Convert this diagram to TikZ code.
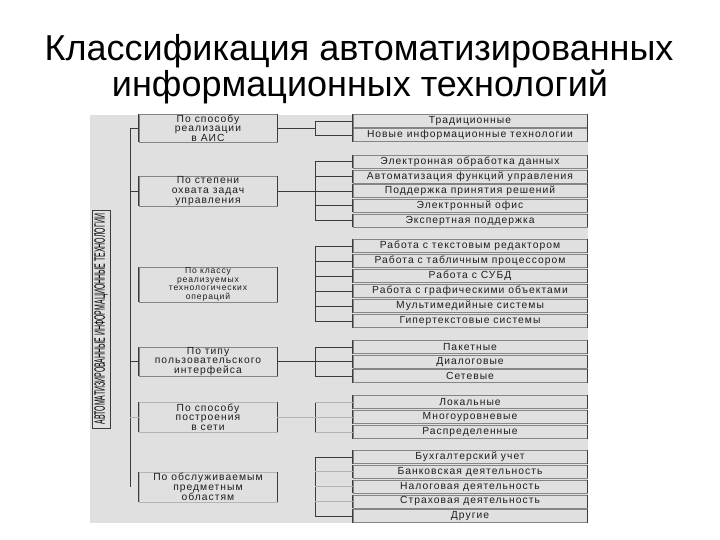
\documentclass[tikz,border=0pt]{standalone}
\usepackage{fontspec}
\setmainfont{Liberation Sans}
\newfontfamily\boxfont[LetterSpace=10]{Liberation Sans}
\usepackage{graphicx}
\usetikzlibrary{positioning}
\definecolor{panel}{HTML}{E0E0E0}
\definecolor{wire}{HTML}{3C3C3C}
\definecolor{frame}{HTML}{858585}
\definecolor{faint}{HTML}{B4B4B4}
\definecolor{ink}{HTML}{1E1E1E}

\begin{document}
\begin{tikzpicture}[x=1pt, y=-1pt,
    line/.style={draw=wire, line width=0.9pt},
    faintline/.style={draw=faint, line width=0.7pt},
    lbox/.style={draw=frame, fill=panel, minimum width=138pt, inner sep=0pt, align=center,
        text=ink, font=\boxfont\fontsize{10.3}{9.6}\selectfont},
    rbox/.style={draw=frame, fill=panel, minimum width=234pt, minimum height=13pt, inner sep=0pt,
        text=ink, font=\boxfont\fontsize{10.3}{10}\selectfont},
    side/.style={draw=wire, line width=1.1pt}]
    \useasboundingbox (0,0) rectangle (720,540);

    % Title
    \node[anchor=base, font=\fontsize{36}{40}\selectfont] (title1) at (359,61) {Классификация автоматизированных};
    \node[anchor=base, font=\fontsize{36}{40}\selectfont] (title2) at (360,97) {информационных технологий};

    % Grey panel
    \fill[panel] (90,115) rectangle (588,523);
    \coordinate (bus) at (130,0);
    \coordinate (brk) at (315,0);

    % Vertical label
    \node[draw=wire, line width=0.8pt, fill=panel, rotate=90, minimum width=218pt, minimum height=18pt, inner sep=0pt]
        (vlabel) at (101,319) {\resizebox{210pt}{10.5pt}{АВТОМАТИЗИРОВАННЫЕ ИНФОРМАЦИОННЫЕ ТЕХНОЛОГИИ}};

    % Left boxes
    \node[lbox, minimum height=28pt] (L1) at (208,128) {По способу\\реализации\\в АИС};
    \node[lbox, minimum height=30pt] (L2) at (208,191) {По степени\\охвата задач\\управления};
    \node[lbox, minimum height=35pt, font=\boxfont\fontsize{8.6}{8.4}\selectfont] (L3) at (208,284.5)
        {По классу\\реализуемых\\технологических\\операций};
    \node[lbox, minimum height=29pt] (L4) at (208,361.5) {По типу\\пользовательского\\интерфейса};
    \node[lbox, draw=faint, minimum height=30pt] (L5) at (208,417) {По способу\\построения\\в сети};
    \node[lbox, draw=faint, minimum height=30pt] (L6) at (208,487) {По обслуживаемым\\предметным\\областям};

    % Right boxes
    \foreach \t [count=\i] in {Традиционные, Новые информационные технологии}
        \node[rbox] (a\i) at (470, {121+14*(\i-1)}) {\t};
    \foreach \t [count=\i] in {Электронная обработка данных, Автоматизация функций управления,
            Поддержка принятия решений, Электронный офис, Экспертная поддержка}
        \node[rbox] (b\i) at (470, {161.5+14.75*(\i-1)}) {\t};
    \foreach \t [count=\i] in {Работа с текстовым редактором, Работа с табличным процессором,
            Работа с СУБД, Работа с графическими объектами, Мультимедийные системы, Гипертекстовые системы}
        \node[rbox] (c\i) at (470, {246+15*(\i-1)}) {\t};
    \foreach \t [count=\i] in {Пакетные, Диалоговые, Сетевые}
        \node[rbox] (d\i) at (470, {347+14.5*(\i-1)}) {\t};
    \foreach \t [count=\i] in {Локальные, Многоуровневые, Распределенные}
        \node[rbox] (e\i) at (470, {402+15*(\i-1)}) {\t};
    \foreach \t [count=\i] in {Бухгалтерский учет, Банковская деятельность, Налоговая деятельность,
            Страховая деятельность, Другие}
        \node[rbox] (f\i) at (470, {457+14.75*(\i-1)}) {\t};

    % Dark side edges
    \foreach \i in {1,...,6}
        \draw[side] (L\i.north west) -- (L\i.south west) (L\i.north east) -- (L\i.south east);
    \foreach \g/\k in {a/2, b/5, c/6, d/3, e/3, f/5}
        \foreach \i in {1,...,\k}
            \draw[side] (\g\i.north west) -- (\g\i.south west) (\g\i.north east) -- (\g\i.south east);

    % Main bus
    \draw[line] (bus |- L1.west) -- (bus |- L6.west);
    \foreach \n in {L1, L2, L4}
        \draw[line] (bus |- \n.west) -- (\n.west);
    \draw[faintline] (bus |- L5.west) -- (L5.west);

    % Brackets to the right boxes
    \foreach \n in {L1, L2, L4}
        \draw[line] (\n.east) -- (brk |- \n.east);
    \draw[faintline] (L5.east) -- (brk |- L5.east);
    \draw[line] (brk |- a1.west) -- (brk |- a2.west);
    \draw[line] (brk |- b1.west) -- (brk |- b5.west);
    \draw[line] (brk |- c1.west) -- (brk |- c6.west);
    \draw[line] (brk |- d1.west) -- (brk |- d3.west);
    \draw[line] (brk |- e1.west) -- (brk |- e3.west);
    \draw[line] (brk |- f1.west) -- (brk |- f5.west);
    \foreach \n in {a1, a2, b1, b2, b3, b4, b5, c1, c2, c3, c4, c5, c6, d1, d2, d3, f1, f5}
        \draw[line] (brk |- \n.west) -- (\n.west);
    \foreach \n in {e1, e2, e3, f2, f3, f4}
        \draw[faintline] (brk |- \n.west) -- (\n.west);
\end{tikzpicture}
\end{document}
